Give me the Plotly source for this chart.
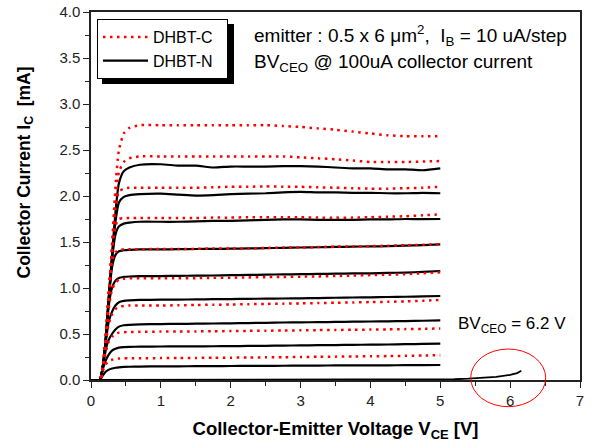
import plotly.graph_objects as go

# ---------------- data ----------------
# collector-emitter voltage grid [V]
v_pre = [0.0, 0.06]
v_knee = [0.13, 0.17, 0.21, 0.25, 0.30, 0.35, 0.40, 0.47, 0.55, 0.70, 1.0]
v_plateau = [1.25, 1.5, 1.75, 2.0, 2.25, 2.5, 2.75, 3.0, 3.25, 3.5, 3.75, 4.0, 4.25, 4.5, 4.75, 5.0]
i_pre = [-0.03, -0.05]

# DHBT-N (solid black), IB = 10 .. 90 uA, collector current [mA]
dhbt_n_knee = [
    [0, 0.05, 0.09, 0.11, 0.125, 0.133, 0.138, 0.142, 0.144, 0.146, 0.148],
    [0, 0.12, 0.21, 0.27, 0.32, 0.34, 0.352, 0.357, 0.36, 0.362, 0.364],
    [0, 0.14, 0.32, 0.43, 0.50, 0.55, 0.58, 0.595, 0.60, 0.605, 0.608],
    [0, 0.15, 0.40, 0.62, 0.74, 0.81, 0.845, 0.86, 0.865, 0.87, 0.873],
    [0, 0.15, 0.42, 0.78, 1.00, 1.08, 1.11, 1.12, 1.125, 1.128, 1.13],
    [0, 0.15, 0.43, 0.83, 1.22, 1.36, 1.40, 1.41, 1.415, 1.42, 1.42],
    [0, 0.15, 0.43, 0.84, 1.30, 1.58, 1.67, 1.70, 1.71, 1.72, 1.72],
    [0, 0.15, 0.43, 0.85, 1.32, 1.72, 1.93, 1.99, 2.01, 2.02, 2.025],
    [0, 0.15, 0.43, 0.85, 1.35, 1.82, 2.14, 2.27, 2.31, 2.34, 2.345],
]
dhbt_n_plateau = [
    [0.149, 0.150, 0.151, 0.152, 0.153, 0.154, 0.155, 0.156, 0.157, 0.158, 0.159, 0.160, 0.160, 0.161, 0.162, 0.163],
    [0.365, 0.366, 0.367, 0.368, 0.370, 0.372, 0.374, 0.376, 0.378, 0.380, 0.382, 0.384, 0.386, 0.389, 0.392, 0.395],
    [0.610, 0.612, 0.614, 0.616, 0.619, 0.622, 0.625, 0.627, 0.629, 0.631, 0.634, 0.636, 0.638, 0.641, 0.644, 0.648],
    [0.874, 0.876, 0.878, 0.880, 0.882, 0.884, 0.886, 0.888, 0.891, 0.894, 0.897, 0.899, 0.902, 0.905, 0.909, 0.913],
    [1.132, 1.134, 1.136, 1.140, 1.142, 1.145, 1.148, 1.150, 1.153, 1.156, 1.158, 1.160, 1.164, 1.168, 1.175, 1.185],
    [1.422, 1.424, 1.425, 1.427, 1.430, 1.433, 1.436, 1.440, 1.443, 1.446, 1.450, 1.452, 1.455, 1.460, 1.467, 1.475],
    [1.720, 1.725, 1.730, 1.730, 1.735, 1.740, 1.745, 1.745, 1.740, 1.740, 1.740, 1.745, 1.745, 1.750, 1.748, 1.750],
    [2.015, 2.005, 2.010, 2.020, 2.025, 2.030, 2.040, 2.045, 2.040, 2.040, 2.035, 2.035, 2.030, 2.030, 2.035, 2.030],
    [2.330, 2.330, 2.310, 2.320, 2.320, 2.320, 2.325, 2.325, 2.320, 2.310, 2.300, 2.300, 2.290, 2.290, 2.280, 2.300],
]

# DHBT-C (red dotted)
dhbt_c_knee = [
    [0, 0.10, 0.17, 0.205, 0.22, 0.23, 0.233, 0.235, 0.236, 0.237, 0.238],
    [0, 0.14, 0.30, 0.41, 0.47, 0.50, 0.515, 0.52, 0.522, 0.524, 0.526],
    [0, 0.15, 0.38, 0.60, 0.71, 0.77, 0.795, 0.805, 0.81, 0.81, 0.81],
    [0, 0.15, 0.42, 0.76, 0.98, 1.06, 1.09, 1.10, 1.105, 1.105, 1.105],
    [0, 0.15, 0.45, 0.86, 1.28, 1.39, 1.41, 1.42, 1.42, 1.42, 1.425],
    [0, 0.15, 0.45, 0.87, 1.38, 1.68, 1.75, 1.76, 1.76, 1.76, 1.76],
    [0, 0.15, 0.45, 0.88, 1.40, 1.85, 2.05, 2.08, 2.09, 2.09, 2.09],
    [0, 0.15, 0.45, 0.90, 1.42, 1.95, 2.26, 2.37, 2.41, 2.43, 2.43],
    [0, 0.15, 0.45, 0.90, 1.45, 2.10, 2.50, 2.68, 2.74, 2.77, 2.77],
]
dhbt_c_plateau = [
    [0.239, 0.240, 0.242, 0.243, 0.245, 0.246, 0.248, 0.250, 0.252, 0.254, 0.256, 0.258, 0.260, 0.263, 0.266, 0.270],
    [0.527, 0.528, 0.530, 0.532, 0.534, 0.536, 0.538, 0.540, 0.542, 0.544, 0.546, 0.548, 0.550, 0.553, 0.556, 0.560],
    [0.812, 0.815, 0.818, 0.820, 0.824, 0.827, 0.830, 0.833, 0.836, 0.840, 0.843, 0.847, 0.850, 0.855, 0.862, 0.870],
    [1.105, 1.107, 1.110, 1.112, 1.115, 1.118, 1.120, 1.123, 1.126, 1.130, 1.135, 1.140, 1.145, 1.150, 1.160, 1.170],
    [1.425, 1.425, 1.430, 1.430, 1.430, 1.435, 1.440, 1.440, 1.445, 1.450, 1.450, 1.455, 1.460, 1.465, 1.470, 1.475],
    [1.760, 1.760, 1.765, 1.765, 1.770, 1.770, 1.770, 1.770, 1.765, 1.765, 1.765, 1.770, 1.775, 1.780, 1.790, 1.800],
    [2.090, 2.090, 2.095, 2.100, 2.100, 2.105, 2.100, 2.100, 2.095, 2.090, 2.085, 2.080, 2.080, 2.085, 2.090, 2.100],
    [2.430, 2.430, 2.430, 2.430, 2.430, 2.430, 2.430, 2.420, 2.410, 2.400, 2.385, 2.370, 2.370, 2.370, 2.375, 2.380],
    [2.770, 2.770, 2.770, 2.770, 2.770, 2.770, 2.760, 2.750, 2.735, 2.720, 2.700, 2.680, 2.660, 2.650, 2.650, 2.650],
]

# IB = 0 open-base breakdown curve (BVceo)
v_bd = [0.0, 1.0, 2.0, 3.0, 4.0, 5.0, 5.2, 5.4, 5.6, 5.8, 6.0, 6.1, 6.16]
i_bd = [0.0, 0.0, 0.0, 0.0, 0.0, 0.0, 0.008, 0.014, 0.022, 0.035, 0.055, 0.075, 0.10]

# ---------------- figure ----------------
FONT = "Liberation Sans, Arial, sans-serif"
v_all = v_pre + v_knee + v_plateau

fig = go.Figure()

for k in range(len(dhbt_n_knee)):
    fig.add_trace(go.Scatter(
        x=v_all, y=i_pre + dhbt_n_knee[k] + dhbt_n_plateau[k],
        mode="lines", line=dict(color="black", width=2.2, shape="spline", smoothing=0.6),
        name="DHBT-N\u00a0\u00a0", legendgroup="N", showlegend=(k == 0), legendrank=2,
        hoverinfo="skip"))

fig.add_trace(go.Scatter(
    x=v_bd, y=i_bd, mode="lines", line=dict(color="black", width=1.8),
    name="DHBT-N", legendgroup="N", showlegend=False, hoverinfo="skip"))

for k in range(len(dhbt_c_knee)):
    fig.add_trace(go.Scatter(
        x=v_all, y=i_pre + dhbt_c_knee[k] + dhbt_c_plateau[k],
        mode="lines", line=dict(color="#ff0000", width=2.5, dash="2.5px,4.5px",
                                shape="spline", smoothing=0.6),
        name="DHBT-C\u00a0\u00a0", legendgroup="C", showlegend=(k == 0), legendrank=1,
        hoverinfo="skip"))

W, H = 594, 445
ML, MR, MT, MB = 91, 14, 12, 65
PLOT_L, PLOT_B = 91, 380          # plot origin in window pixels
PW, PH = W - ML - MR, H - MT - MB


def px(xp):
    """window pixel x -> paper x"""
    return (xp - PLOT_L) / PW


def py(yp):
    """window pixel y -> paper y"""
    return (PLOT_B - yp) / PH


axis_common = dict(
    showline=True, linecolor="#222", linewidth=1.5, mirror=True,
    ticks="outside", ticklen=6, tickwidth=1.3, tickcolor="#222",
    showgrid=False, zeroline=False, automargin=False,
    ticklabeloverflow="allow",
    tickfont=dict(family=FONT, size=15, color="#222"),
)

fig.update_layout(
    width=W, height=H,
    margin=dict(l=ML, r=MR, t=MT, b=MB, autoexpand=False),
    paper_bgcolor="white", plot_bgcolor="white",
    font=dict(family=FONT, color="black"),
    xaxis=dict(
        range=[0, 7], dtick=1, tick0=0,
        minor=dict(dtick=0.5, ticks="outside", ticklen=4, tickcolor="#222"),
        title=dict(text="<b>Collector-Emitter Voltage V<sub>CE</sub> [V]</b>",
                   font=dict(family=FONT, size=18.5), standoff=14),
        **axis_common),
    yaxis=dict(
        range=[0, 4], dtick=0.5, tick0=0, tickformat=".1f",
        minor=dict(dtick=0.25, ticks="outside", ticklen=4, tickcolor="#222"),
        **axis_common),
    legend=dict(
        x=px(97), y=py(19), xanchor="left", yanchor="top",
        bgcolor="white", bordercolor="black", borderwidth=1,
        font=dict(family=FONT, size=16), itemwidth=45,
        tracegroupgap=0,
    ),
    showlegend=True,
)

# y-axis title (sits above the plot's centre in the reference)
fig.add_annotation(
    xref="paper", yref="paper", x=px(25), y=py(172.5), xanchor="center", yanchor="middle",
    textangle=-90, showarrow=False,
    text="<b>Collector Current I<sub>C</sub>  [mA]</b>",
    font=dict(family=FONT, size=17.5, color="black"))

# legend drop shadow
fig.add_shape(type="rect", xref="paper", yref="paper",
              x0=px(102), x1=px(234), y0=py(84), y1=py(24),
              fillcolor="black", line=dict(width=0), layer="above")

# red ellipse around the breakdown region
fig.add_shape(type="circle", xref="paper", yref="paper",
              x0=px(470.7), x1=px(545.7), y0=py(406.7), y1=py(349),
              line=dict(color="#ff0000", width=1))

fig.add_annotation(
    xref="paper", yref="paper", x=px(252), y=py(36), xanchor="left", yanchor="middle",
    text="emitter : 0.5 x 6 \u03bcm<sup>2</sup>,  I<sub>B</sub> = 10 uA/step",
    showarrow=False, font=dict(family=FONT, size=19, color="black"))
fig.add_annotation(
    xref="paper", yref="paper", x=px(252), y=py(63), xanchor="left", yanchor="middle",
    text="BV<sub>CEO</sub> @ 100uA collector current",
    showarrow=False, font=dict(family=FONT, size=19, color="black"))
fig.add_annotation(
    xref="paper", yref="paper", x=px(456), y=py(325), xanchor="left", yanchor="middle",
    text="BV<sub>CEO</sub> = 6.2 V",
    showarrow=False, font=dict(family=FONT, size=17, color="black"))

# remove the page's default 8 px body margin so the figure fills the window
fig.write_html("out.html", config={"displayModeBar": False},
               post_script="document.body.style.margin='0';")
